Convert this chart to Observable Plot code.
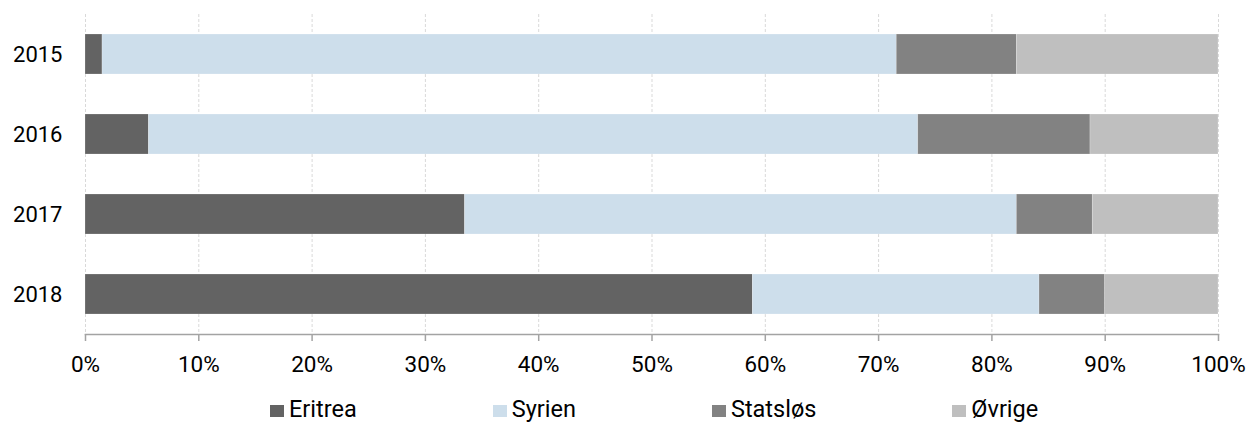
<!DOCTYPE html>
<html>
<head>
<meta charset="utf-8">
<script src="https://cdn.jsdelivr.net/npm/d3@7"></script>
<script src="https://cdn.jsdelivr.net/npm/@observablehq/plot@0.6"></script>
<style>
  html, body { margin: 0; padding: 0; background: #fff; }
  body { width: 1251px; height: 423px; overflow: hidden; font-family: Roboto, "Noto Sans", sans-serif; }
  #chart svg { display: block; }
  #legend { position: relative; height: 38px; font-family: Roboto, sans-serif; font-size: 23.5px; line-height: 22px; color: #000; }
  #legend .inner { position: absolute; left: 270px; top: 13px; display: flex; white-space: nowrap; }
  #legend .item { display: inline-block; margin-right: 136px; }
  #legend .sw { display: inline-block; width: 14px; height: 12px; margin-right: 5px; vertical-align: baseline; }
</style>
</head>
<body>
<div id="chart"></div>
<div id="legend"><div class="inner"></div></div>
<script>
const years = ["2015", "2016", "2017", "2018"];
const countries = ["Eritrea", "Syrien", "Statsløs", "Øvrige"];
const colors = ["#636363", "#cddeeb", "#828282", "#bfbfbf"];
const eritrea  = [1.5, 5.6, 33.5, 58.9];
const syrien   = [70.1, 67.9, 48.7, 25.3];
const statslos = [10.6, 15.2, 6.7, 5.8];
const ovrige   = [17.8, 11.3, 11.1, 10.0];
const xTicks = [0, 10, 20, 30, 40, 50, 60, 70, 80, 90, 100];

const series = [eritrea, syrien, statslos, ovrige];
const data = [];
years.forEach((y, i) => {
  countries.forEach((c, j) => data.push({year: y, country: c, value: series[j][i]}));
});

const plot = Plot.plot({
  width: 1251,
  height: 385,
  marginLeft: 85,
  marginRight: 33,
  marginTop: 14,
  marginBottom: 51,
  style: {fontFamily: "Roboto, sans-serif", fontSize: "22px", color: "#000", background: "#fff"},
  x: {domain: [0, 100]},
  y: {domain: years, paddingInner: 0.5, paddingOuter: 0.25, align: 0.5},
  color: {domain: countries, range: colors},
  marks: [
    Plot.ruleX(xTicks, {x: d => d, stroke: "#d9d9d9", strokeWidth: 1, strokeDasharray: "3,2"}),
    Plot.barX(data, {x: "value", y: "year", fill: "country", order: countries, stroke: "#ffffff", strokeOpacity: 0.35, strokeWidth: 0.6}),
    Plot.frame({anchor: "bottom", stroke: "#a3a3a3", strokeWidth: 1.5}),
    Plot.axisX(xTicks, {tickFormat: d => d + "%", tickSize: 7, tickPadding: 15, stroke: "#a3a3a3", strokeWidth: 1.5, fill: "#000", fontSize: 22.5, label: null}),
    Plot.axisY({tickSize: 0, tickPadding: 23, fill: "#000", fontSize: 22, label: null})
  ]
});
document.getElementById("chart").appendChild(plot);

const inner = document.querySelector("#legend .inner");
countries.forEach((c, j) => {
  const item = document.createElement("span");
  item.className = "item";
  const sw = document.createElement("span");
  sw.className = "sw";
  sw.style.background = colors[j];
  item.appendChild(sw);
  item.appendChild(document.createTextNode(c));
  inner.appendChild(item);
});
</script>
</body>
</html>
